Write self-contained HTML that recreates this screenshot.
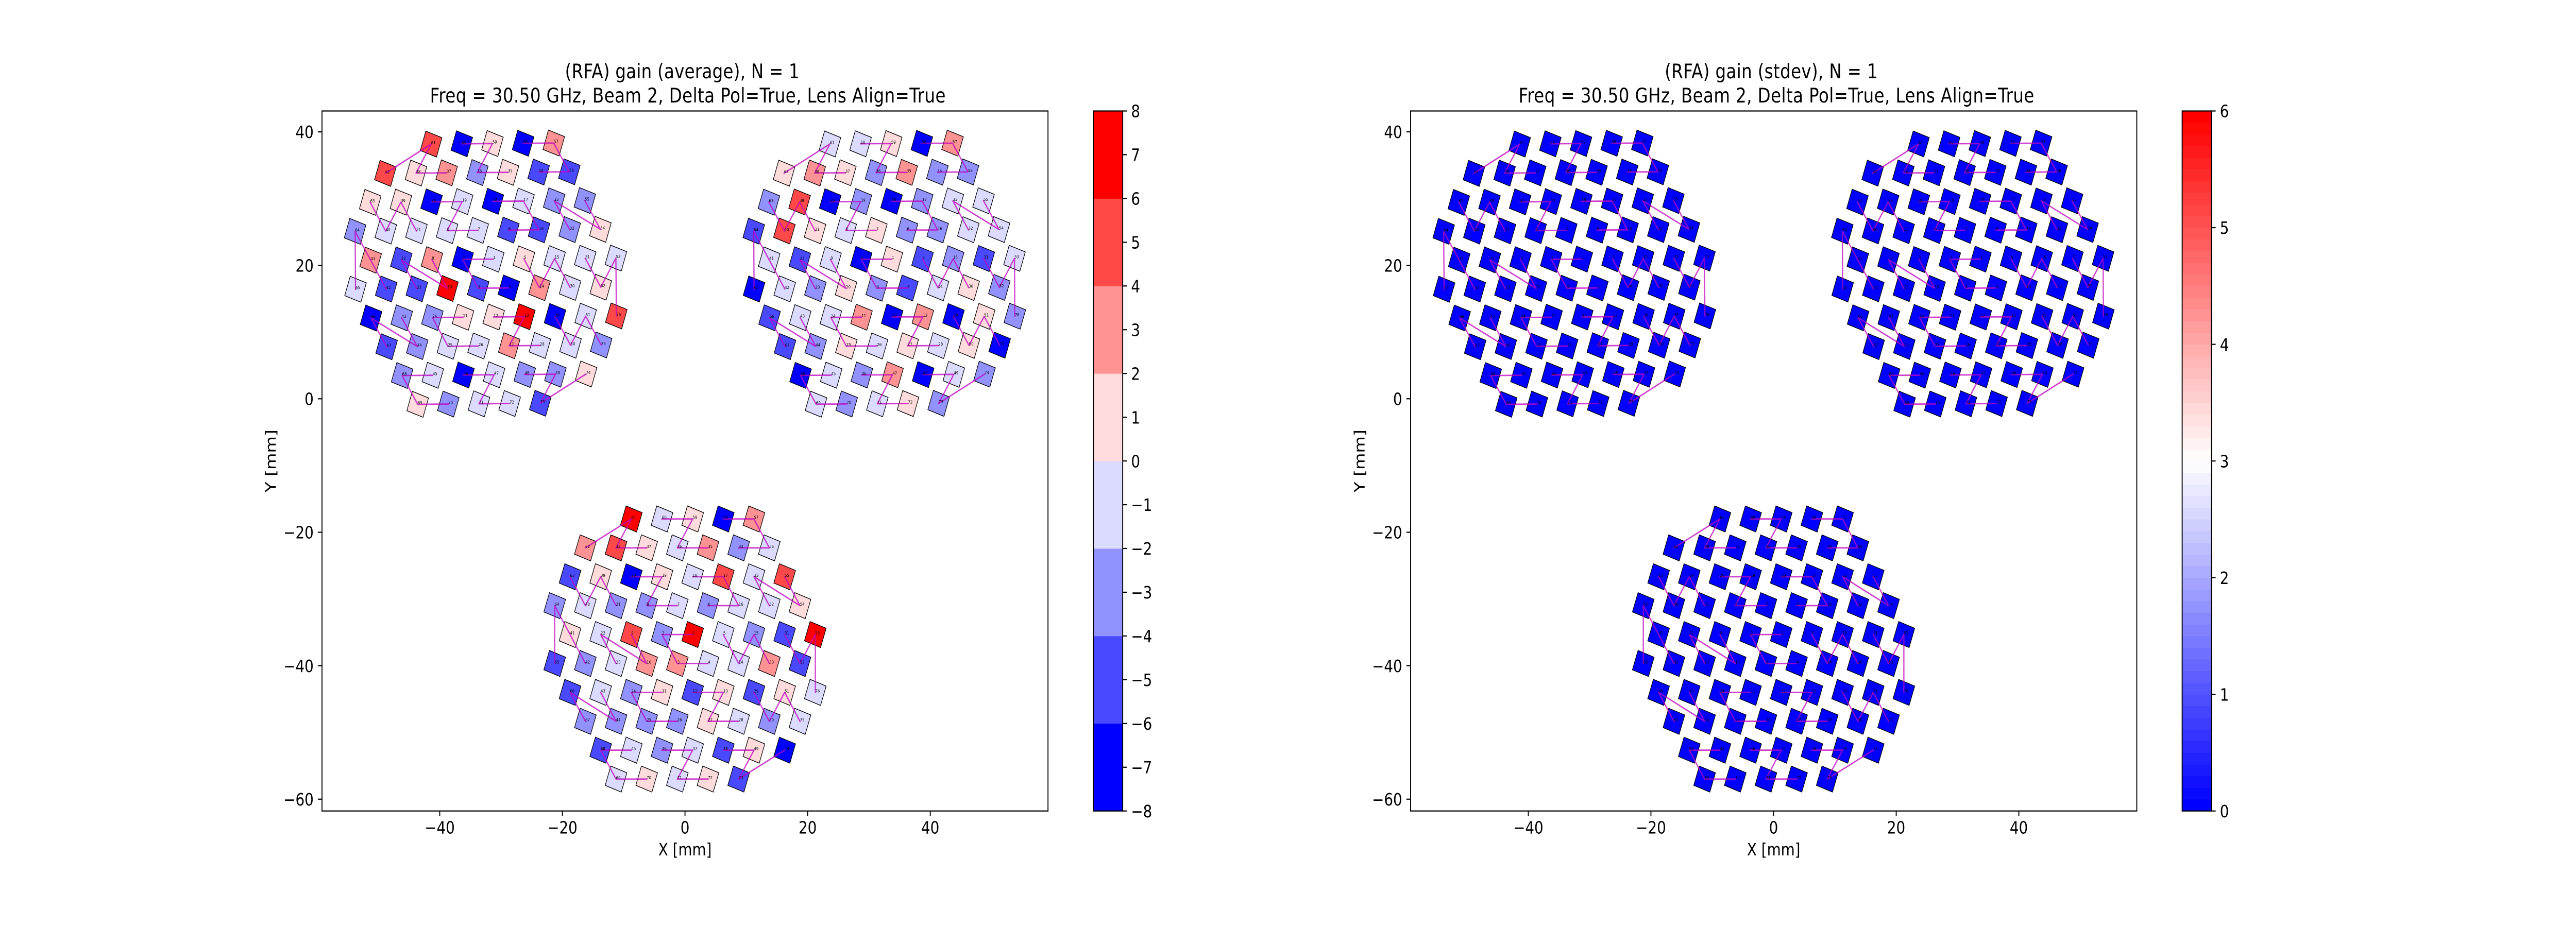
<!DOCTYPE html>
<html lang="en">
<head>
<meta charset="utf-8">
<title>RFA gain average and stdev</title>
<style>
html,body{margin:0;padding:0;background:#fff;width:100%;height:100%;overflow:hidden}
svg{display:block;width:100vw;height:100vh}
text{font-family:"DejaVu Sans","Liberation Sans",sans-serif;fill:#000}
</style>
</head>
<body>
<svg xmlns="http://www.w3.org/2000/svg" viewBox="0 0 6000 1800" preserveAspectRatio="none">
  <rect x="0" y="0" width="6000" height="1800" fill="#fff"/>

  <g>
    <text x="1589" y="152.2" font-size="38.89" text-anchor="middle" textLength="546" lengthAdjust="spacing">(RFA) gain (average), N = 1</text>
    <text x="1602" y="198.8" font-size="38.89" text-anchor="middle" textLength="1201" lengthAdjust="spacing">Freq = 30.50 GHz, Beam 2, Delta Pol=True, Lens Align=True</text>
    <g id="marks-0"></g>
    <g id="ticks-0"></g>
    <rect x="750" y="215.5" width="1691" height="1359.2" fill="none" stroke="#000" stroke-width="2.22"/>
    <text x="1595.5" y="1661" font-size="33.33" text-anchor="middle">X [mm]</text>
    <text x="642" y="895" font-size="33.33" text-anchor="middle" transform="rotate(-90 642 895)">Y [mm]</text>
    <g id="cbar-0"></g>
    <rect x="2546.7" y="215.5" width="68.3" height="1359.2" fill="none" stroke="#000" stroke-width="2.22"/>
  </g>

  <g>
    <text x="4125.5" y="152.2" font-size="38.89" text-anchor="middle" textLength="496" lengthAdjust="spacing">(RFA) gain (stdev), N = 1</text>
    <text x="4137.5" y="198.8" font-size="38.89" text-anchor="middle" textLength="1201" lengthAdjust="spacing">Freq = 30.50 GHz, Beam 2, Delta Pol=True, Lens Align=True</text>
    <g id="marks-1"></g>
    <g id="ticks-1"></g>
    <rect x="3285.5" y="215.5" width="1691.5" height="1359.2" fill="none" stroke="#000" stroke-width="2.22"/>
    <text x="4131.25" y="1661" font-size="33.33" text-anchor="middle">X [mm]</text>
    <text x="3178" y="895" font-size="33.33" text-anchor="middle" transform="rotate(-90 3178 895)">Y [mm]</text>
    <g id="cbar-1"></g>
    <rect x="5082.7" y="215.5" width="68.3" height="1359.2" fill="none" stroke="#000" stroke-width="2.22"/>
  </g>
</svg>

<script>
/* Element centres in mm, local to a module, index 0 = element number 1 */
const elementX = [1.25,-3.75,-1.25,3.75,6.25,3.75,-1.25,-6.25,-8.75,-6.25,
  -3.75,1.25,6.25,8.75,11.25,8.75,6.25,1.25,-3.75,-8.75,
  -11.25,-13.75,-11.25,-8.75,-6.25,-1.25,3.75,8.75,11.25,13.75,
  16.25,13.75,11.25,8.75,3.75,-1.25,-6.25,-11.25,-13.75,-16.25,
  -18.75,-16.25,-13.75,-11.25,-8.75,-3.75,1.25,6.25,11.25,13.75,
  16.25,18.75,21.25,18.75,16.25,13.75,11.25,6.25,1.25,-3.75,
  -8.75,-16.25,-18.75,-21.25,-21.25,-18.75,-16.25,-13.75,-11.25,-6.25,
  -1.25,3.75,8.75,16.25,18.75,21.25];
const elementY = [2.17,2.17,-2.17,-2.17,2.17,6.50,6.50,6.50,2.17,-2.17,
  -6.50,-6.50,-6.50,-2.17,2.17,6.50,10.83,10.83,10.83,10.83,
  6.50,2.17,-2.17,-6.50,-10.83,-10.83,-10.83,-10.83,-6.50,-2.17,
  2.17,6.50,10.83,15.16,15.16,15.16,15.16,15.16,10.83,6.50,
  2.17,-2.17,-6.50,-10.83,-15.16,-15.16,-15.16,-15.16,-15.16,-10.83,
  -6.50,-2.17,2.17,6.50,10.83,15.16,19.49,19.49,19.49,19.49,
  19.49,15.16,10.83,6.50,-2.17,-6.50,-10.83,-15.16,-19.49,-19.49,
  -19.49,-19.49,-19.49,-15.16,-10.83,-6.50];

/* Module placement in mm and degrees */
const moduleCenterX = [-32.5, 32.5, 0];
const moduleCenterY = [18.75, 18.75, -37.5];
const moduleRotation = [0.45, 0.35, 0];

/* Feed chains: element numbers joined by the magenta line */
const feedChains = [[62,61,38,37],[60,59,36,35],[58,57,56,34],[63,40,39,21],[20,19,8,7],
  [18,17,16,6],[55,54,33,32],[65,64,41,42],[9,10,22,23],[1,2,3,4],[5,14,15,30],[31,52,53,76],
  [67,66,44,43],[11,24,25,26],[12,13,27,28],[29,50,51,75],[45,68,69,70],[46,47,71,72],[48,49,73,74]];

/* Gain average (dB), estimated from the colour band of each element */
const gainAvgModule1 = [-1,-7,-5,-7,1,-5,-1,-1,3,7,
  1,1,7,3,-1,-5,-1,-7,-1,-7,
  -1,-5,-5,-3,-1,-1,3,-1,-7,-1,
  -1,-3,-3,-5,1,-3,3,1,1,-1,
  3,-5,-3,-3,-1,-7,-1,-3,-3,-1,
  -1,1,-1,1,-3,-5,3,-7,1,-7,
  5,5,1,-3,-1,-7,-5,-3,1,-3,
  -1,-1,-5,1,-3,5];
const gainAvgModule2 = [1,-7,-3,-5,-5,-3,1,-1,-1,1,
  3,-7,3,-1,-3,-3,-3,-7,-3,-7,
  1,-5,-3,-1,1,-1,1,-1,-7,1,
  -5,-1,-1,-3,3,-3,1,3,5,5,
  -1,-1,-1,-3,-1,-3,3,-7,-1,1,
  1,-3,-1,-1,-1,-3,3,-7,1,-1,
  -1,1,-3,-5,-7,-5,-5,-7,-1,-3,
  -1,1,-3,-3,-7,-3];
const gainAvgModule3 = [7,-3,3,-1,-1,-3,-1,-3,5,3,
  1,-5,1,-1,-3,-1,5,-1,1,-7,
  -3,-1,-1,-3,-3,-3,1,-1,-5,3,
  -5,-1,-1,-3,3,-1,1,5,1,-1,
  1,-3,-1,-3,-1,-3,-1,-5,1,-3,
  1,-5,7,1,5,-1,3,-7,1,-1,
  7,3,-5,-3,-5,-5,-3,-5,-1,1,
  -1,1,-5,-7,-1,-1];

/* Gain stdev: N = 1, so every element reads zero */
const gainStdModule1 = [0,0,0,0,0,0,0,0,0,0,0,0,0,0,0,0,0,0,0,0,0,0,0,0,0,0,0,0,0,0,0,0,0,0,0,0,0,0,0,0,0,0,0,0,0,0,0,0,0,0,0,0,0,0,0,0,0,0,0,0,0,0,0,0,0,0,0,0,0,0,0,0,0,0,0,0];
const gainStdModule2 = [0,0,0,0,0,0,0,0,0,0,0,0,0,0,0,0,0,0,0,0,0,0,0,0,0,0,0,0,0,0,0,0,0,0,0,0,0,0,0,0,0,0,0,0,0,0,0,0,0,0,0,0,0,0,0,0,0,0,0,0,0,0,0,0,0,0,0,0,0,0,0,0,0,0,0,0];
const gainStdModule3 = [0,0,0,0,0,0,0,0,0,0,0,0,0,0,0,0,0,0,0,0,0,0,0,0,0,0,0,0,0,0,0,0,0,0,0,0,0,0,0,0,0,0,0,0,0,0,0,0,0,0,0,0,0,0,0,0,0,0,0,0,0,0,0,0,0,0,0,0,0,0,0,0,0,0,0,0];

/* Tick labels */
const xTickValues = [-40,-20,0,20,40];
const yTickValues = [-60,-40,-20,0,20,40];
const avgColorbarTicks = [-8,-7,-6,-5,-4,-3,-2,-1,0,1,2,3,4,5,6,7,8];
const stdColorbarTicks = [0,1,2,3,4,5,6];

const SVG_NS = 'http://www.w3.org/2000/svg';
const AXES_TOP = 215.5, AXES_BOTTOM = 1574.7, AXES_WIDTH = 1691;
const Y_MAX = 43.13, Y_MIN = -61.77, X_HALF = 59.2;
const MARKER_HALF_SIDE = 19.85, MARKER_ANGLE = 19.2;
const TICK_LEN = 9.72, TICK_PAD = 9.72, TICK_W = 2.22, TICK_FONT = 33.33;

function axesLeft(panel){ return panel === 0 ? 750 : 3285.5; }
function xScale(panel, v){ return axesLeft(panel) + (v + X_HALF) / (2 * X_HALF) * AXES_WIDTH; }
function yScale(v){ return AXES_TOP + (Y_MAX - v) / (Y_MAX - Y_MIN) * (AXES_BOTTOM - AXES_TOP); }
function cbarLeft(panel){ return panel === 0 ? 2546.7 : 5082.7; }
function cbarScale(v, lo, hi){ return AXES_BOTTOM - (v - lo) / (hi - lo) * (AXES_BOTTOM - AXES_TOP); }

function bwr(t){
  const r = Math.round(255 * Math.min(1, 2 * t));
  const g = Math.round(255 * (1 - Math.abs(2 * t - 1)));
  const b = Math.round(255 * Math.min(1, 2 * (1 - t)));
  return 'rgb(' + r + ',' + g + ',' + b + ')';
}
function binnedColor(v, lo, hi, n){
  const i = Math.max(0, Math.min(n - 1, Math.floor((v - lo) / (hi - lo) * n)));
  return bwr(i / (n - 1));
}
function tickText(v){ return v < 0 ? '\u2212' + Math.abs(v) : String(v); }

function drawTickLine(parent, x1, y1, x2, y2, name){
  const el = document.createElementNS(SVG_NS, 'line');
  el.setAttribute('x1', x1);
  el.setAttribute('y1', y1);
  el.setAttribute('x2', x2);
  el.setAttribute('y2', y2);
  el.setAttribute('stroke', '#000');
  el.setAttribute('stroke-width', TICK_W);
  
  
  parent.appendChild(el);
}
function drawTickLabel(parent, x, y, anchor, label, name){
  const el = document.createElementNS(SVG_NS, 'text');
  el.setAttribute('x', x);
  el.setAttribute('y', y);
  el.setAttribute('text-anchor', anchor);
  el.setAttribute('font-size', TICK_FONT);
  el.textContent = label;
  
  
  parent.appendChild(el);
}

function drawAxes(panel){
  const g = document.getElementById('ticks-' + panel);
  const left = axesLeft(panel);
  xTickValues.forEach(function(v){
    const x = xScale(panel, v);
    drawTickLine(g, x, AXES_BOTTOM, x, AXES_BOTTOM + TICK_LEN, 'x-tick');
    drawTickLabel(g, x, AXES_BOTTOM + TICK_LEN + TICK_PAD + 24.3, 'middle', tickText(v), 'x-tick-label');
  });
  yTickValues.forEach(function(v){
    const y = yScale(v);
    drawTickLine(g, left, y, left - TICK_LEN, y, 'y-tick');
    drawTickLabel(g, left - TICK_LEN - TICK_PAD, y + 12.2, 'end', tickText(v), 'y-tick-label');
  });
}

function drawColorbar(panel, lo, hi, n, ticks){
  const g = document.getElementById('cbar-' + panel);
  const left = cbarLeft(panel);
  for (let i = 0; i < n; i++) {
    const top = cbarScale(lo + (hi - lo) * (i + 1) / n, lo, hi);
    const bottom = cbarScale(lo + (hi - lo) * i / n, lo, hi);
    const band = document.createElementNS(SVG_NS, 'rect');
    band.setAttribute('x', left);
    band.setAttribute('y', top);
    band.setAttribute('width', 68.3);
    band.setAttribute('height', bottom - top + (i === 0 ? 0 : 0.4));
    band.setAttribute('fill', bwr(i / (n - 1)));
    
    
    g.appendChild(band);
  }
  ticks.forEach(function(v){
    const y = cbarScale(v, lo, hi);
    drawTickLine(g, left + 68.3, y, left + 68.3 + TICK_LEN, y, 'colorbar-tick');
    drawTickLabel(g, left + 68.3 + TICK_LEN + TICK_PAD, y + 12.2, 'start', tickText(v), 'colorbar-tick-label');
  });
}

function elementPos(panel, moduleIndex, elementNumber){
  const lx = elementX[elementNumber - 1];
  const ly = elementY[elementNumber - 1];
  const a = moduleRotation[moduleIndex] * Math.PI / 180;
  const dataX = moduleCenterX[moduleIndex] + lx * Math.cos(a) - ly * Math.sin(a);
  const dataY = moduleCenterY[moduleIndex] + lx * Math.sin(a) + ly * Math.cos(a);
  return { x: xScale(panel, dataX), y: yScale(dataY) };
}

function drawModule(panel, moduleIndex, values, lo, hi, n){
  const root = document.getElementById('marks-' + panel);
  const group = document.createElementNS(SVG_NS, 'g');
  
  
  root.appendChild(group);

  values.forEach(function(v, i){
    const p = elementPos(panel, moduleIndex, i + 1);
    const sq = document.createElementNS(SVG_NS, 'rect');
    sq.setAttribute('x', p.x - MARKER_HALF_SIDE);
    sq.setAttribute('y', p.y - MARKER_HALF_SIDE);
    sq.setAttribute('width', 2 * MARKER_HALF_SIDE);
    sq.setAttribute('height', 2 * MARKER_HALF_SIDE);
    sq.setAttribute('fill', binnedColor(v, lo, hi, n));
    sq.setAttribute('stroke', '#000');
    sq.setAttribute('stroke-width', 1.4);
    sq.setAttribute('transform', 'rotate(' + (MARKER_ANGLE - moduleRotation[moduleIndex]) + ' ' + p.x + ' ' + p.y + ')');
    
    
    group.appendChild(sq);
  });

  feedChains.forEach(function(chain){
    const pts = chain.map(function(num){
      const p = elementPos(panel, moduleIndex, num);
      return p.x.toFixed(2) + ',' + p.y.toFixed(2);
    }).join(' ');
    const line = document.createElementNS(SVG_NS, 'polyline');
    line.setAttribute('points', pts);
    line.setAttribute('fill', 'none');
    line.setAttribute('stroke', '#bf00bf');
    line.setAttribute('stroke-opacity', 0.75);
    line.setAttribute('stroke-width', 2.78);
    line.setAttribute('stroke-linecap', 'square');
    line.setAttribute('stroke-linejoin', 'round');
    
    
    group.appendChild(line);
  });

  values.forEach(function(v, i){
    const p = elementPos(panel, moduleIndex, i + 1);
    const label = document.createElementNS(SVG_NS, 'text');
    label.setAttribute('x', p.x);
    label.setAttribute('y', p.y);
    label.setAttribute('font-size', 8.33);
    label.textContent = String(i + 1);
    
    
    group.appendChild(label);
  });
}

drawAxes(0);
drawAxes(1);
drawColorbar(0, -8, 8, 8, avgColorbarTicks);
drawColorbar(1, 0, 6, 60, stdColorbarTicks);
drawModule(0, 0, gainAvgModule1, -8, 8, 8);
drawModule(0, 1, gainAvgModule2, -8, 8, 8);
drawModule(0, 2, gainAvgModule3, -8, 8, 8);
drawModule(1, 0, gainStdModule1, 0, 6, 60);
drawModule(1, 1, gainStdModule2, 0, 6, 60);
drawModule(1, 2, gainStdModule3, 0, 6, 60);
</script>
</body>
</html>
